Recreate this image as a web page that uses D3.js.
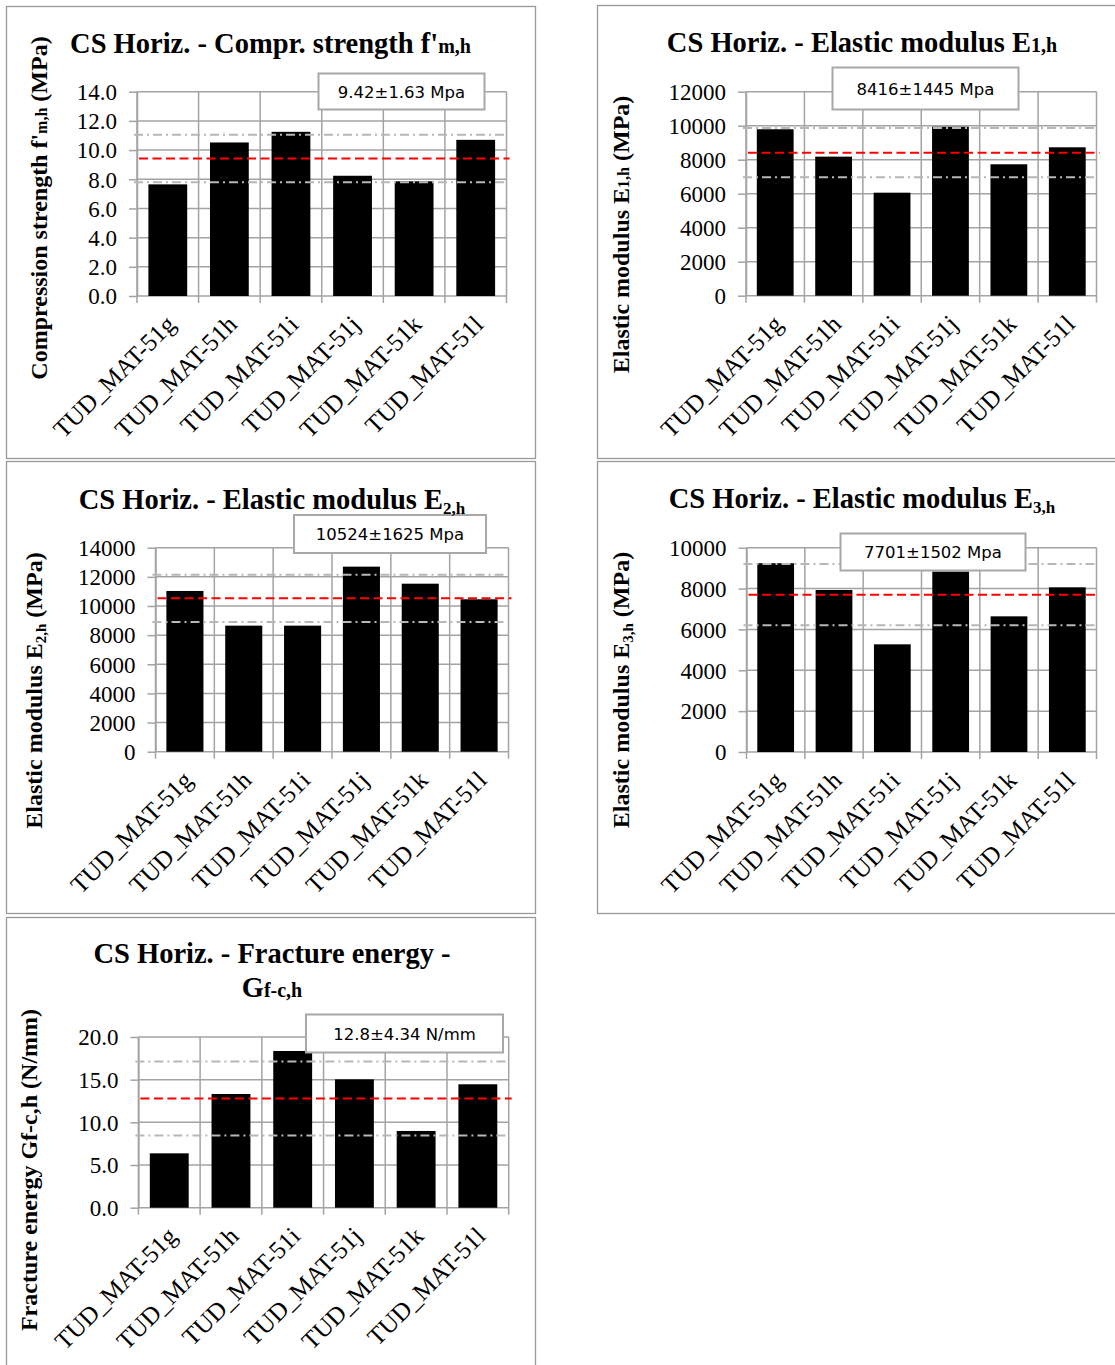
<!DOCTYPE html>
<html>
<head>
<meta charset="utf-8">
<script src="https://cdn.jsdelivr.net/npm/d3@7"></script>
<style>
  body { margin: 0; background: #fff; }
  svg { display: block; }
</style>
</head>
<body>
<svg id="chart" width="1115" height="1365"></svg>
<script>
// Specimens tested (horizontal direction)
const samples = ["TUD_MAT-51g", "TUD_MAT-51h", "TUD_MAT-51i", "TUD_MAT-51j", "TUD_MAT-51k", "TUD_MAT-51l"];

// Measured values per specimen
const strengthFm = [7.65, 10.52, 11.25, 8.24, 7.86, 10.70];     // MPa
const modulusE1  = [9790, 8180, 6060, 9940, 7730, 8730];         // MPa
const modulusE2  = [11030, 8650, 8650, 12700, 11530, 10460];     // MPa
const modulusE3  = [9240, 7930, 5270, 8830, 6640, 8060];         // MPa
const fractureGf = [6.37, 13.32, 18.36, 15.04, 8.99, 14.46];     // N/mm

// Mean and standard deviation per quantity
const statMean = [9.42, 8416, 10524, 7701, 12.8];
const statSd   = [1.63, 1445, 1625, 1502, 4.34];
const statText = ["9.42±1.63 Mpa", "8416±1445 Mpa", "10524±1625 Mpa", "7701±1502 Mpa", "12.8±4.34 N/mm"];

// Y axis ranges and tick steps
const yMax   = [14, 12000, 14000, 10000, 20];
const yStep  = [2, 2000, 2000, 2000, 5];
const yFmt   = [".1f", "d", "d", "d", ".1f"];

const SERIF = "'Liberation Serif','Times New Roman',serif";
const SANS  = "'DejaVu Sans',Verdana,sans-serif";
const GRID  = "#a3a3a3";

const svg = d3.select("#chart");

// Appends tspans; each part may have its own size and a downward shift
function richText(sel, parts, baseSize) {
  let shift = 0;
  parts.forEach(p => {
    const ts = sel.append("tspan").text(p.t).attr("font-size", p.size || baseSize);
    const want = p.sub || 0;
    if (want !== shift) { ts.attr("dy", want - shift); shift = want; }
  });
}

const panels = [
  {
    values: strengthFm, k: 0,
    frame: { x: 6.5, y: 6.5, w: 529, h: 452 },
    plot: { x0: 137, x1: 506.5, y0: 91.7, y1: 296 },
    box: { x: 318.5, y: 73.5, w: 166, h: 36 },
    title: { x: 270.5, lines: [{ y: 53, parts: [{ t: "CS Horiz. - Compr. strength f'" }, { t: "m,h", size: 20 }] }] },
    yTitle: { x: 47, y: 208, parts: [{ t: "Compression strength f'" }, { t: "m,h", size: 16 }, { t: " (MPa)" }] }
  },
  {
    values: modulusE1, k: 1,
    frame: { x: 597.5, y: 5.5, w: 530, h: 453 },
    plot: { x0: 746, x1: 1096.5, y0: 91.7, y1: 295.7 },
    box: { x: 832.5, y: 67.5, w: 186, h: 42 },
    title: { x: 862, lines: [{ y: 52, parts: [{ t: "CS Horiz. - Elastic modulus E" }, { t: "1,h", size: 20 }] }] },
    yTitle: { x: 629, y: 234.5, parts: [{ t: "Elastic modulus E" }, { t: "1,h", size: 16 }, { t: " (MPa)" }] }
  },
  {
    values: modulusE2, k: 2,
    frame: { x: 6.5, y: 461.5, w: 529, h: 452 },
    plot: { x0: 155.5, x1: 508.5, y0: 547.7, y1: 751.7 },
    box: { x: 294, y: 515, w: 192, h: 38 },
    title: { x: 272, lines: [{ y: 509, parts: [{ t: "CS Horiz. - Elastic modulus E" }, { t: "2,h", size: 17, sub: 5 }] }] },
    yTitle: { x: 42, y: 690.5, parts: [{ t: "Elastic modulus E" }, { t: "2,h", size: 15, sub: 4 }, { t: " (MPa)" }] }
  },
  {
    values: modulusE3, k: 3,
    frame: { x: 597.5, y: 461.5, w: 530, h: 452 },
    plot: { x0: 746.5, x1: 1096.5, y0: 547.7, y1: 752 },
    box: { x: 840.5, y: 533.5, w: 185, h: 37 },
    title: { x: 862, lines: [{ y: 508, parts: [{ t: "CS Horiz. - Elastic modulus E" }, { t: "3,h", size: 17, sub: 5 }] }] },
    yTitle: { x: 629, y: 690, parts: [{ t: "Elastic modulus E" }, { t: "3,h", size: 15, sub: 4 }, { t: " (MPa)" }] }
  },
  {
    values: fractureGf, k: 4,
    frame: { x: 6.5, y: 917.5, w: 529, h: 460 },
    plot: { x0: 138.4, x1: 508.7, y0: 1037, y1: 1207.7 },
    box: { x: 306, y: 1014.5, w: 197, h: 38 },
    title: { x: 272, lines: [
      { y: 963, parts: [{ t: "CS Horiz. - Fracture energy -" }] },
      { y: 997, parts: [{ t: "G" }, { t: "f-c,h", size: 20 }] }
    ] },
    yTitle: { x: 37, y: 1170, parts: [{ t: "Fracture energy Gf-c,h (N/mm)" }] }
  }
];

panels.forEach(p => {
  const g = svg.append("g");
  const { x0, x1, y0, y1 } = p.plot;
  const k = p.k;

  // outer chart frame
  g.append("rect")
    .attr("x", p.frame.x).attr("y", p.frame.y)
    .attr("width", p.frame.w).attr("height", p.frame.h)
    .attr("fill", "#fff").attr("stroke", "#9a9a9a").attr("stroke-width", 1.3);

  const x = d3.scaleBand().domain(samples).range([x0, x1]).paddingInner(0).paddingOuter(0);
  const y = d3.scaleLinear().domain([0, yMax[k]]).range([y1, y0]);
  const ticks = d3.range(0, yMax[k] + yStep[k] / 2, yStep[k]);

  // horizontal gridlines
  g.append("g").selectAll("line").data(ticks).join("line")
    .attr("x1", x0).attr("x2", x1)
    .attr("y1", d => y(d)).attr("y2", d => y(d))
    .attr("stroke", GRID).attr("stroke-width", 1.5);

  // vertical gridlines at category boundaries, with tick stubs below the axis
  const bounds = samples.map(s => x(s)).concat([x1]);
  g.append("g").selectAll("line").data(bounds).join("line")
    .attr("x1", d => d).attr("x2", d => d)
    .attr("y1", y0).attr("y2", y1 + 7)
    .attr("stroke", GRID).attr("stroke-width", 1.5);

  // y axis with outward tick stubs and labels
  const yAxis = g.append("g")
    .attr("transform", `translate(${x0},0)`)
    .call(d3.axisLeft(y).tickValues(ticks).tickFormat(d3.format(yFmt[k]))
      .tickSizeInner(8).tickSizeOuter(0).tickPadding(12));
  yAxis.select(".domain").attr("stroke", GRID).attr("stroke-width", 1.5);
  yAxis.selectAll(".tick line").attr("stroke", GRID).attr("stroke-width", 1.5);
  yAxis.selectAll(".tick text")
    .attr("font-family", SERIF).attr("font-size", 23).attr("fill", "#000").attr("dy", "0.34em");

  // bars
  const bw = x.bandwidth() * 0.63;
  g.append("g").selectAll("rect").data(samples).join("rect")
    .attr("x", s => x(s) + (x.bandwidth() - bw) / 2)
    .attr("width", bw)
    .attr("y", (s, i) => y(p.values[i]))
    .attr("height", (s, i) => y(0) - y(p.values[i]))
    .attr("fill", "#000");

  // mean and mean ± sd reference lines
  const hi = statMean[k] + statSd[k], lo = statMean[k] - statSd[k];
  [hi, lo].forEach(v => {
    g.append("line")
      .attr("x1", x0 - 3).attr("x2", x1 - 2)
      .attr("y1", y(v)).attr("y2", y(v))
      .attr("stroke", "#b7b7b7").attr("stroke-width", 2)
      .attr("stroke-dasharray", "9,4,2,4");
  });
  g.append("line")
    .attr("x1", x0 + 2).attr("x2", x1 + 3)
    .attr("y1", y(statMean[k])).attr("y2", y(statMean[k]))
    .attr("stroke", "#ff0000").attr("stroke-width", 2)
    .attr("stroke-dasharray", "9,4.5");

  // statistics box
  g.append("rect")
    .attr("x", p.box.x).attr("y", p.box.y).attr("width", p.box.w).attr("height", p.box.h)
    .attr("fill", "#fff").attr("stroke", "#a8a8a8").attr("stroke-width", 2);
  g.append("text")
    .attr("x", p.box.x + p.box.w / 2).attr("y", p.box.y + p.box.h / 2 + 6)
    .attr("text-anchor", "middle")
    .attr("font-family", SANS).attr("font-size", 16.5).attr("fill", "#000")
    .text(statText[k]);

  // rotated category labels
  g.append("g").selectAll("text").data(samples).join("text")
    .attr("transform", s => `translate(${x(s) + x.bandwidth() / 2 + 9},${y1 + 30}) rotate(-45)`)
    .attr("text-anchor", "end")
    .attr("font-family", SERIF).attr("font-size", 25).attr("fill", "#000")
    .text(s => s);

  // chart title
  p.title.lines.forEach(line => {
    const t = g.append("text")
      .attr("x", p.title.x).attr("y", line.y)
      .attr("text-anchor", "middle")
      .attr("font-family", SERIF).attr("font-weight", "bold").attr("fill", "#000");
    richText(t, line.parts, 28.5);
  });

  // y axis title
  const yt = g.append("text")
    .attr("transform", `translate(${p.yTitle.x},${p.yTitle.y}) rotate(-90)`)
    .attr("text-anchor", "middle")
    .attr("font-family", SERIF).attr("font-weight", "bold").attr("fill", "#000");
  richText(yt, p.yTitle.parts, 24);
});
</script>
</body>
</html>
